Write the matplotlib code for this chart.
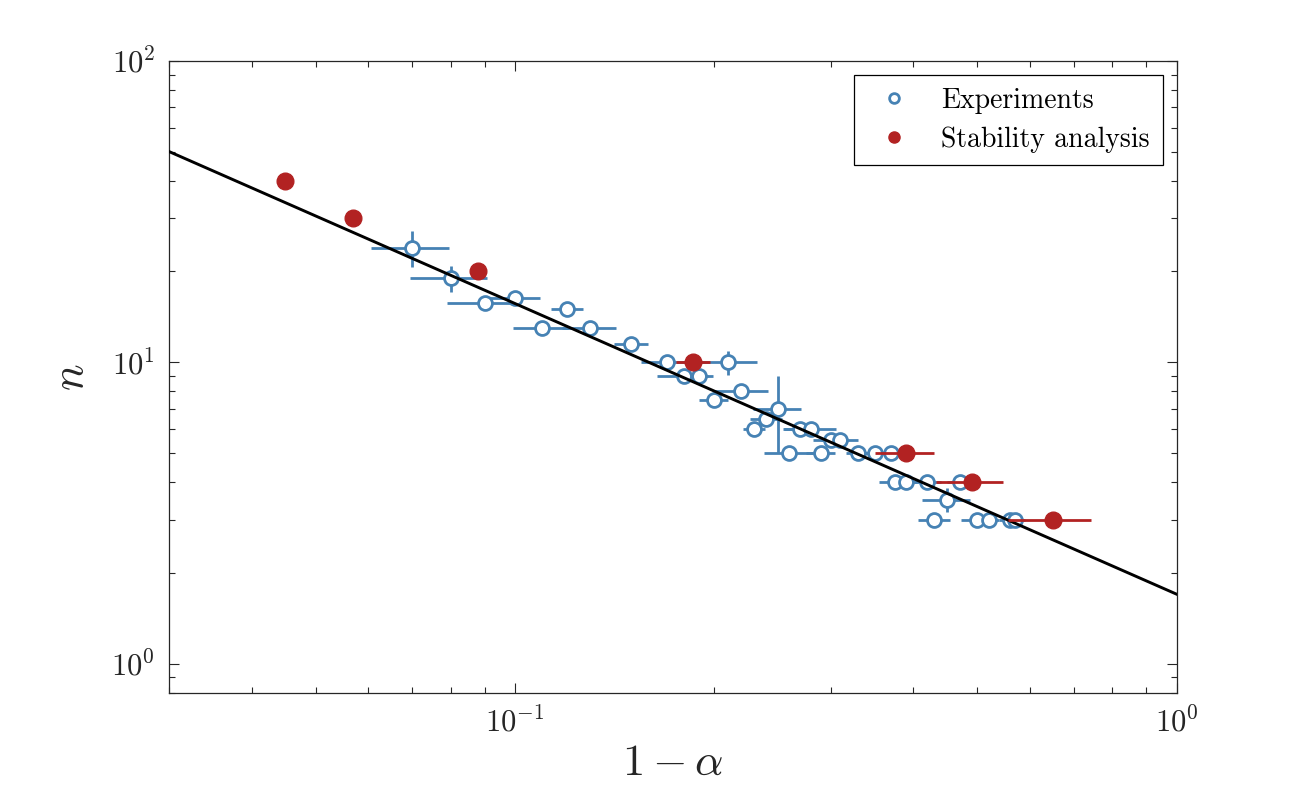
import numpy as np
import matplotlib
matplotlib.use("Agg")
import matplotlib.pyplot as plt
from matplotlib.lines import Line2D

plt.rcParams['font.family'] = 'serif'
plt.rcParams['font.serif'] = ['cmr10', 'DejaVu Serif']
plt.rcParams['mathtext.fontset'] = 'cm'
plt.rcParams['axes.formatter.use_mathtext'] = True

# experiments: 1 - alpha, n, errors
exp_x = [0.07, 0.08, 0.09, 0.10, 0.11, 0.12, 0.13, 0.15, 0.17, 0.18, 0.19, 0.20,
         0.21, 0.22, 0.23, 0.24, 0.25, 0.26, 0.27, 0.28, 0.29, 0.30, 0.31, 0.33,
         0.35, 0.37, 0.375, 0.39, 0.42, 0.43, 0.45, 0.47, 0.50, 0.52, 0.56, 0.57]
exp_n = [24, 19, 15.7, 16.3, 13, 15, 13, 11.5, 10, 9, 9, 7.5,
         10, 8, 6, 6.5, 7, 5, 6, 6, 5, 5.5, 5.5, 5,
         5, 5, 4, 4, 4, 3, 3.5, 4, 3, 3, 3, 3]
exp_xerr = [0.0095, 0.0107, 0.011, 0.009, 0.0105, 0.0066, 0.012, 0.009, 0.015, 0.016, 0.009, 0.010,
            0.022, 0.021, 0.009, 0.013, 0.021, 0.022, 0.015, 0.026, 0.015, 0.018, 0.02, 0.014,
            0.015, 0.015, 0.02, 0.015, 0.02, 0.024, 0.038, 0.02, 0.027, 0.02, 0.02, 0.02]
exp_nerr = [3.3, 1.85, 0, 0, 0, 0, 0, 0, 0, 0, 0, 0,
            0.9, 0, 0, 0, 2.0, 0, 0, 0, 0, 0, 0, 0,
            0, 0, 0, 0, 0, 0, 0.32, 0, 0, 0, 0, 0]

# stability analysis
stab_x = [0.045, 0.057, 0.088, 0.186, 0.39, 0.49, 0.65]
stab_n = [40, 30, 20, 10, 5, 4, 3]
stab_xerr = [0, 0, 0, 0.011, 0.04, 0.057, 0.093]

# power-law fit line (end points)
fit_x = [0.03, 1.0]
fit_n = [50.0, 1.70]

blue = '#4682B4'
red = '#B22222'
dark = '#262626'

fig = plt.figure(figsize=(13, 8), dpi=100)
ax = fig.add_axes([0.130, 0.134, 0.775, 0.790])

ax.errorbar(exp_x, exp_n, xerr=exp_xerr, yerr=exp_nerr, fmt='o', color=blue,
            mfc='white', mec=blue, ms=10, mew=2, elinewidth=2, capsize=0, zorder=2)
ax.plot(fit_x, fit_n, color='k', lw=2.1, zorder=3)
ax.errorbar(stab_x, stab_n, xerr=stab_xerr, fmt='o', color=red,
            mfc=red, mec=red, ms=12, elinewidth=2, capsize=0, zorder=4)

ax.set_xscale('log')
ax.set_yscale('log')
ax.set_xlim(0.03, 1.0)
ax.set_ylim(0.8, 100)

ax.set_xlabel(r'$1-\alpha$', fontsize=32, color=dark, labelpad=4)
ax.set_ylabel(r'$n$', fontsize=32, color=dark, labelpad=14)

ax.tick_params(which='both', direction='in', top=True, right=True, colors=dark)
ax.tick_params(which='major', length=7.5, width=0.8, labelsize=22, pad=10)
ax.tick_params(which='minor', length=4, width=0.8)
for s in ax.spines.values():
    s.set_color(dark)
    s.set_linewidth(0.9)

handles = [
    Line2D([], [], ls='none', marker='o', mfc='white', mec=blue, mew=2, ms=7),
    Line2D([], [], ls='none', marker='o', mfc=red, mec=red, ms=8),
]
leg = ax.legend(handles, ['Experiments', 'Stability analysis'], loc='upper right',
                fontsize=20, fancybox=False, framealpha=1, edgecolor='k',
                borderaxespad=0.5, handletextpad=0.7, labelspacing=0.45,
                borderpad=0.45, handlelength=2.0)
leg.get_frame().set_linewidth(0.9)

fig.savefig('out.png', dpi=100, facecolor='white')
